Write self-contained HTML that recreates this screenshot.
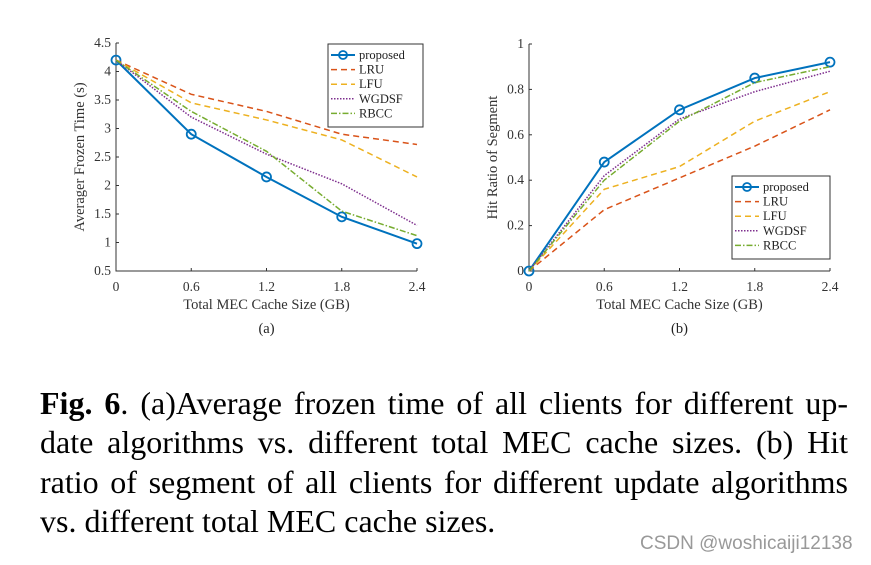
<!DOCTYPE html>
<html><head><meta charset="utf-8"><style>
body{margin:0;background:#fff;width:871px;height:565px;overflow:hidden;position:relative;font-family:"Liberation Serif",serif}
.cap{position:absolute;left:40px;width:808px;font-size:32px;color:#000;white-space:nowrap}
.j{text-align:justify;text-align-last:justify}
</style></head><body>
<svg id="svg" width="871" height="380" style="position:absolute;left:0;top:0"></svg>
<div class="cap j" style="top:385px"><b>Fig. 6</b>. (a)Average frozen time of all clients for different up-</div>
<div class="cap j" style="top:424px">date algorithms vs. different total MEC cache sizes. (b) Hit</div>
<div class="cap j" style="top:464px">ratio of segment of all clients for different update algorithms</div>
<div class="cap" style="top:503px">vs. different total MEC cache sizes.</div>
<div style="position:absolute;left:640px;top:533px;font-family:'Liberation Sans',sans-serif;font-size:19px;color:#999">CSDN @woshicaiji12138</div>
<script>
const categories=[0,0.6,1.2,1.8,2.4];
const xTickLabels=["0","0.6","1.2","1.8","2.4"];
const seriesNames=["proposed","LRU","LFU","WGDSF","RBCC"];
const frozenProposed=[4.2,2.9,2.15,1.45,0.98];
const frozenLRU=[4.2,3.6,3.3,2.9,2.72];
const frozenLFU=[4.2,3.45,3.15,2.8,2.15];
const frozenWGDSF=[4.2,3.2,2.55,2.03,1.3];
const frozenRBCC=[4.2,3.3,2.6,1.55,1.12];
const frozenTicks=["0.5","1","1.5","2","2.5","3","3.5","4","4.5"];
const hitProposed=[0,0.48,0.71,0.85,0.92];
const hitLRU=[0,0.27,0.41,0.55,0.71];
const hitLFU=[0,0.36,0.46,0.66,0.79];
const hitWGDSF=[0,0.42,0.67,0.79,0.88];
const hitRBCC=[0,0.40,0.66,0.83,0.90];
const hitTicks=["0","0.2","0.4","0.6","0.8","1"];

const NS="http://www.w3.org/2000/svg";
const svg=document.getElementById('svg');
const styles=[{c:"#0072BD",d:"",w:2},{c:"#D95319",d:"6,4",w:1.5},{c:"#EDB120",d:"6,4",w:1.5},{c:"#7E2F8E",d:"1.5,1.5",w:1.5},{c:"#77AC30",d:"6,2,1.5,2",w:1.5}];
function el(t,a,p){const e=document.createElementNS(NS,t);for(const k in a)e.setAttribute(k,a[k]);(p||svg).appendChild(e);return e;}
function txt(s,a,p){const e=el('text',a,p);e.textContent=s;return e;}
function chart(cfg){
  const g=el('g',{});
  
  
  const X=v=>cfg.x0+(v-categories[0])/(categories[4]-categories[0])*(cfg.x1-cfg.x0);
  const Y=v=>cfg.y1-(v-cfg.ymin)/(cfg.ymax-cfg.ymin)*(cfg.y1-cfg.y0);
  const ax=el('path',{d:`M${cfg.x0},${cfg.y0}V${cfg.y1}H${cfg.x1}`,stroke:"#333",fill:"none","stroke-width":1},g);
  
  
  categories.forEach((c,i)=>{
    el('line',{x1:X(c),x2:X(c),y1:cfg.y1,y2:cfg.y1-3,stroke:"#333"},g);
    const t=txt(xTickLabels[i],{x:X(c),y:cfg.y1+20,"text-anchor":"middle","font-size":13.5,fill:"#333"},g);
    
    
  });
  cfg.ticks.forEach(s=>{
    const v=parseFloat(s);
    el('line',{x1:cfg.x0,x2:cfg.x0+3,y1:Y(v),y2:Y(v),stroke:"#333"},g);
    const t=txt(s,{x:cfg.x0-5,y:Y(v)+4,"text-anchor":"end","font-size":13.5,fill:"#333"},g);
    
    
  });
  const xt=txt("Total MEC Cache Size (GB)",{x:(cfg.x0+cfg.x1)/2,y:cfg.y1+38,"text-anchor":"middle","font-size":14.5,fill:"#333"},g);
  
  
  const yt=txt(cfg.ytitle,{x:0,y:0,"text-anchor":"middle","font-size":14.5,fill:"#333",transform:`translate(${cfg.x0-32},${(cfg.y0+cfg.y1)/2}) rotate(-90)`},g);
  
  
  const sub=txt(cfg.sub,{x:(cfg.x0+cfg.x1)/2,y:cfg.y1+62,"text-anchor":"middle","font-size":14.5,fill:"#222"},g);
  
  
  cfg.series.forEach((s,k)=>{
    const st=styles[k];
    const p=el('polyline',{points:s.map((v,i)=>X(categories[i])+","+Y(v)).join(" "),fill:"none",stroke:st.c,"stroke-width":st.w,"stroke-dasharray":st.d},g);
    
    
    if(k===0) s.forEach((v,i)=>{
      const c=el('circle',{cx:X(categories[i]),cy:Y(v),r:4.5,fill:"none",stroke:st.c,"stroke-width":1.8},g);
      
      
    });
  });
  const L=cfg.leg;
  const lg=el('g',{},g);
  
  
  el('rect',{x:L.x,y:L.y,width:L.w,height:L.h,fill:"#fff",stroke:"#333","stroke-width":1},lg);
  seriesNames.forEach((n,k)=>{
    const st=styles[k];const yy=L.y+10+k*(L.h-10)/5*1.0+1;
    el('line',{x1:L.x+3,x2:L.x+27,y1:yy,y2:yy,stroke:st.c,"stroke-width":st.w,"stroke-dasharray":st.d},lg);
    if(k===0)el('circle',{cx:L.x+15,cy:yy,r:4,fill:"none",stroke:st.c,"stroke-width":1.8},lg);
    const t=txt(n,{x:L.x+31,y:yy+4,"font-size":12.5,fill:"#222"},lg);
    
    
  });
}
chart({name:"chart-a-frozen-time",x0:116,x1:417,y0:43,y1:271,ymin:0.5,ymax:4.5,ticks:frozenTicks,ytitle:"Averager Frozen Time (s)",sub:"(a)",
  series:[frozenProposed,frozenLRU,frozenLFU,frozenWGDSF,frozenRBCC],leg:{x:328,y:44,w:95,h:83}});
chart({name:"chart-b-hit-ratio",x0:529,x1:830,y0:44,y1:271,ymin:0,ymax:1,ticks:hitTicks,ytitle:"Hit Ratio of Segment",sub:"(b)",
  series:[hitProposed,hitLRU,hitLFU,hitWGDSF,hitRBCC],leg:{x:732,y:176,w:98,h:83}});
</script>
</body></html>
